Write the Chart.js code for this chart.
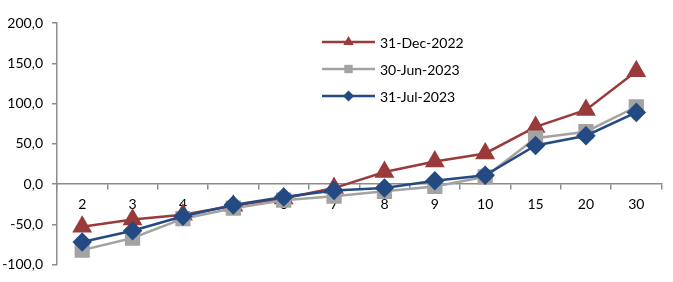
<!DOCTYPE html>
<html>
<head>
<meta charset="utf-8">
<script src="https://cdn.jsdelivr.net/npm/chart.js@4"></script>
<style>
  html, body { margin: 0; padding: 0; background: #fff; }
  #wrap { width: 673px; height: 282px; position: relative; }
</style>
</head>
<body>
<div id="wrap"><canvas id="c"></canvas></div>
<script>
// categories (x axis)
const categories = ["2", "3", "4", "5", "6", "7", "8", "9", "10", "15", "20", "30"];

// series values
const dec2022 = [-53, -44, -38, -27, -18, -5, 15, 28, 38, 71, 92, 140];
const jun2023 = [-82, -67, -43, -30, -20, -15, -9, -3, 9, 57, 65, 96];
const jul2023 = [-72, -58, -40, -26, -16, -8, -5, 4, 11, 48, 60, 89];

const seriesLabels = ["31-Dec-2022", "30-Jun-2023", "31-Jul-2023"];
const yTicks = [-100, -50, 0, 50, 100, 150, 200];

const RED = "#9a3a3a", GRAY = "#a3a3a3", BLUE = "#234a82";
const FONT = "Lato, 'Open Sans', sans-serif";

function shape(ctx, style, x, y, r){
  ctx.beginPath();
  if (style === "triangle"){
    ctx.moveTo(x, y - r);
    ctx.lineTo(x + r*0.87, y + r*0.5);
    ctx.lineTo(x - r*0.87, y + r*0.5);
  } else if (style === "rect"){
    ctx.rect(x - r*0.7, y - r*0.7, r*1.4, r*1.4);
  } else {
    ctx.moveTo(x, y - r); ctx.lineTo(x + r, y); ctx.lineTo(x, y + r); ctx.lineTo(x - r, y);
  }
  ctx.closePath();
  ctx.fill();
}

// legend drawn inside the plot, like the original
const boxLegend = {
  id: "boxLegend",
  afterDraw(chart){
    const ctx = chart.ctx;
    const x0 = 322, x1 = 375, tx = 380;
    const rows = [42, 69, 96];
    const sizes = [6, 6, 5.5];
    chart.data.datasets.slice().sort((a,b)=>a.legendIdx-b.legendIdx).forEach((ds, i)=>{
      const y = rows[i];
      ctx.save();
      ctx.strokeStyle = ds.borderColor; ctx.lineWidth = 2.5;
      ctx.beginPath(); ctx.moveTo(x0, y); ctx.lineTo(x1, y); ctx.stroke();
      ctx.fillStyle = ds.pointBackgroundColor;
      shape(ctx, ds.pointStyle, (x0+x1)/2, y, sizes[i]);
      ctx.fillStyle = "#000";
      ctx.font = "14px " + FONT;
      ctx.textBaseline = "middle";
      ctx.fillText(ds.label, tx, y + 1);
      ctx.restore();
    });
  }
};

function mk(label, data, color, style, radius, order, legendIdx){
  return {
    label, data, order, legendIdx,
    borderColor: color, backgroundColor: color,
    pointBackgroundColor: color, pointBorderColor: color,
    pointStyle: style, pointRadius: radius, pointHoverRadius: radius,
    borderWidth: 2.5, tension: 0
  };
}

new Chart(document.getElementById("c"), {
  type: "line",
  data: {
    labels: categories,
    datasets: [
      mk(seriesLabels[0], dec2022, RED, "triangle", 9, 2, 0),
      mk(seriesLabels[1], jun2023, GRAY, "rect", 9, 1, 1),
      mk(seriesLabels[2], jul2023, BLUE, "rectRot", 8, 0, 2)
    ]
  },
  options: {
    responsive: true,
    maintainAspectRatio: false,
    animation: false,
    layout: { padding: { top: 23, right: 4, bottom: 17, left: 0 } },
    plugins: { legend: { display: false }, tooltip: { enabled: false } },
    scales: {
      x: {
        position: { y: 0 },
        offset: true,
        grid: { offset: true, drawOnChartArea: false, drawTicks: true, tickLength: 5, color: "#8c8c8c", lineWidth: 1.5 },
        border: { color: "#8c8c8c", width: 1.5 },
        ticks: { color: "#000", font: { family: FONT, size: 14 }, padding: 7, maxRotation: 0 }
      },
      y: {
        min: -100, max: 200,
        afterBuildTicks(scale){ scale.ticks = yTicks.map(v=>({ value: v })); },
        afterFit(scale){ scale.width = 57; },
        grid: { drawOnChartArea: false, drawTicks: true, tickLength: 5, color: "#8c8c8c", lineWidth: 1.5 },
        border: { color: "#8c8c8c", width: 1.5 },
        ticks: {
          color: "#000", font: { family: FONT, size: 14 }, padding: 9,
          callback: v => v.toFixed(1).replace(".", ",")
        }
      }
    }
  },
  plugins: [boxLegend]
});
</script>
</body>
</html>
